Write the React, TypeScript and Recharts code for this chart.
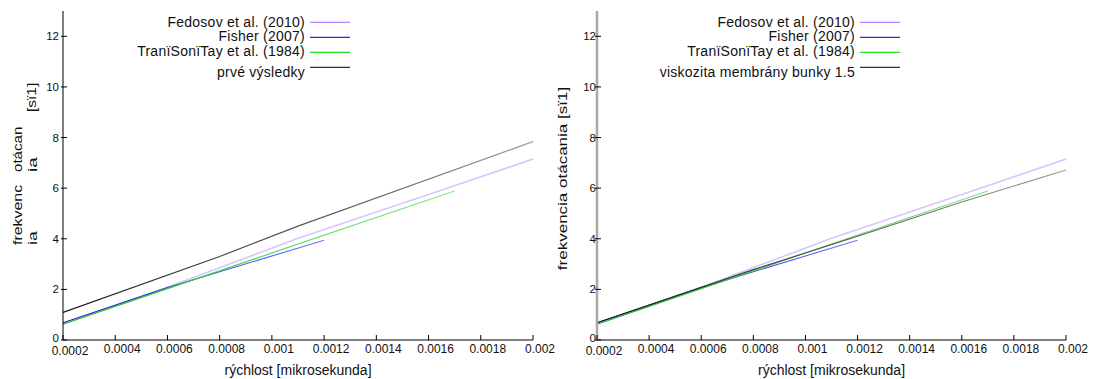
import React from 'react';
import { LineChart, Line, XAxis, YAxis, Legend } from 'recharts';

// ---------- data ----------
const xTicks = [0.0002, 0.0004, 0.0006, 0.0008, 0.001, 0.0012, 0.0014, 0.0016, 0.0018, 0.002];
const xTickLabels = ['0.0002', '0.0004', '0.0006', '0.0008', '0.001', '0.0012', '0.0014', '0.0016', '0.0018', '0.002'];
const yTicks = [0, 2, 4, 6, 8, 10, 12];
const yTickLabels = ['0', '2', '4', '6', '8', '10', '12'];

const seriesNames = ['Fedosov et al. (2010)', 'Fisher (2007)', 'TranïSonïTay et al. (1984)'];
const leftExtraName = 'prvé výsledky';
const rightExtraName = 'viskozita membrány bunky 1.5';

const fedosovX = [0.0002, 0.0006, 0.0011, 0.0016, 0.002];
const fedosovY = [0.65, 2.08, 4.02, 5.75, 7.15];
const fisherX = [0.0002, 0.0006, 0.0008, 0.0012];
const fisherY = [0.68, 2.07, 2.7, 3.94];
const tranX = [0.0002, 0.0006, 0.0011, 0.0017];
const tranY = [0.62, 2.03, 3.79, 5.89];
const prveX = [0.0002, 0.0008, 0.0011, 0.002];
const prveY = [1.09, 3.3, 4.5, 7.84];
const viskX = [0.0002, 0.0008, 0.0012, 0.0016, 0.002];
const viskY = [0.68, 2.78, 4.1, 5.45, 6.72];

const zip = (xs: number[], ys: number[]) => xs.map((x, i) => ({ x, y: ys[i] }));
const fedosovData = zip(fedosovX, fedosovY);
const fisherData = zip(fisherX, fisherY);
const tranData = zip(tranX, tranY);
const prveData = zip(prveX, prveY);
const viskData = zip(viskX, viskY);

// ---------- styles ----------
const FONT = '"Liberation Sans", Arial, Helvetica, sans-serif';
const legendColors = ['#b186ff', '#2a2ae6', '#22dd22', '#333333'];

const makeXTick = () => (props: any) => {
  const { x, y, index } = props;
  return (
    <g>
      <line x1={x} x2={x} y1={y} y2={y - 5} stroke="#000" />
      <text x={x + 7} y={y + 13 + (index === 0 ? 2 : 0)} textAnchor="middle" fontSize={12} fill="#111" fontFamily={FONT}>
        {xTickLabels[index]}
      </text>
    </g>
  );
};
const XTickTop = (props: any) => {
  const { x, y } = props;
  return <line x1={x} x2={x} y1={y} y2={y + 5} stroke="#000" />;
};
const makeYTick = (gap: number) => (props: any) => {
  const { x, y, index } = props;
  return (
    <g>
      <line x1={x - 2} x2={x + 4} y1={y} y2={y} stroke="#000" />
      <text x={x - gap} y={y + (index === 0 ? 1.5 : 4)} textAnchor="end" fontSize={11.5} fill="#111" fontFamily={FONT}>
        {yTickLabels[index]}
      </text>
    </g>
  );
};
const YTickRight = (props: any) => {
  const { x, y } = props;
  return <line x1={x} x2={x - 5} y1={y} y2={y} stroke="#000" />;
};

const LegendBox = (props: any) => {
  const payload = props.payload || [];
  const lineY = [22.3, 37.3, 52.3, 67.3];
  const textY = [26.6, 40.8, 55.8, 77.3];
  return (
    <svg width={360} height={90} style={{ display: 'block' }}>
      {payload.map((p: any, i: number) => (
        <g key={i}>
          <text x={305} y={textY[i]} textAnchor="end" fontSize={14} letterSpacing={0.25} fill="#111" fontFamily={FONT}>
            {p.value}
          </text>
          <line x1={310} x2={350} y1={lineY[i]} y2={lineY[i]} stroke={legendColors[i]} strokeWidth={1.3} />
        </g>
      ))}
    </svg>
  );
};

const XTitle = (props: any) => {
  const vb = props.viewBox || {};
  return (
    <text x={vb.x + vb.width / 2} y={375} textAnchor="middle" fontSize={14} fill="#111" fontFamily={FONT}>
      rýchlost [mikrosekunda]
    </text>
  );
};

const RotText = ({ x, y, s, children, anchor = 'start' }: any) => (
  <text
    transform={`translate(${x},${y}) rotate(-90) scale(${s},1)`}
    textAnchor={anchor}
    fontSize={13.5}
    fill="#111"
    fontFamily={FONT}
  >
    {children}
  </text>
);

const YTitleLeft = () => (
  <g>
    <RotText x={21.7} y={245} s={1.18}>frekvenc</RotText>
    <RotText x={36.7} y={245} s={1.3}>ia</RotText>
    <RotText x={21.7} y={172} s={1.12}>otácan</RotText>
    <RotText x={36.7} y={172} s={1.4}>ia</RotText>
    <RotText x={36} y={112} s={1.15}>[sï1]</RotText>
  </g>
);
const YTitleRight = () => (
  <g>
    <RotText x={17} y={178.5} s={1.26} anchor="middle">frekvencia otácania [sï1]</RotText>
  </g>
);

function Panel(props: {
  width: number;
  yAxisWidth: number;
  marginRight: number;
  leftBorder: string;
  rightBorder: string;
  extraName: string;
  extraData: { x: number; y: number }[];
  tickGap: number;
  YTitle: any;
}) {
  const { width, yAxisWidth, marginRight, leftBorder, rightBorder, extraName, extraData, tickGap, YTitle } = props;
  return (
    <LineChart width={width} height={379} margin={{ top: 11, right: marginRight, bottom: 0, left: 0 }}>
      <XAxis
        xAxisId="b"
        type="number"
        dataKey="x"
        domain={[0.0002, 0.002]}
        ticks={xTicks}
        interval={0}
        height={39}
        tickSize={0}
        tickMargin={0}
        axisLine={{ stroke: '#000' }}
        tick={makeXTick()}
        label={<XTitle />}
        allowDataOverflow
      />
      <XAxis
        xAxisId="t"
        orientation="top"
        type="number"
        dataKey="x"
        domain={[0.0002, 0.002]}
        ticks={xTicks}
        interval={0}
        height={0}
        tickSize={0}
        tickMargin={0}
        axisLine={{ stroke: '#000' }}
        tick={XTickTop}
        allowDataOverflow
      />
      <YAxis
        yAxisId="l"
        type="number"
        domain={[0, 13]}
        ticks={yTicks}
        interval={0}
        width={yAxisWidth}
        tickSize={0}
        tickMargin={0}
        axisLine={{ stroke: leftBorder, strokeWidth: leftBorder === '#000' ? 1 : 2.5 }}
        tick={makeYTick(tickGap)}
        label={<YTitle />}
        allowDataOverflow
      />
      <YAxis
        yAxisId="r"
        orientation="right"
        type="number"
        domain={[0, 13]}
        ticks={yTicks}
        interval={0}
        width={0}
        tickSize={0}
        tickMargin={0}
        axisLine={{ stroke: rightBorder, strokeWidth: rightBorder === '#000' ? 1 : 2.5 }}
        tick={YTickRight}
        allowDataOverflow
      />
      <Line xAxisId="b" yAxisId="l" data={fedosovData} dataKey="y" name={seriesNames[0]} type="linear" stroke="#d6c6ff" strokeWidth={1.6} dot={false} isAnimationActive={false} />
      <Line xAxisId="b" yAxisId="l" data={fisherData} dataKey="y" name={seriesNames[1]} type="linear" stroke="url(#gBlue)" strokeWidth={1.1} dot={false} isAnimationActive={false} />
      <Line xAxisId="b" yAxisId="l" data={tranData} dataKey="y" name={seriesNames[2]} type="linear" stroke="url(#gGreen)" strokeWidth={1.1} dot={false} isAnimationActive={false} />
      <Line xAxisId="b" yAxisId="l" data={extraData} dataKey="y" name={extraName} type="linear" stroke="url(#gGray)" strokeWidth={1.1} dot={false} isAnimationActive={false} />
      <Legend
        layout="horizontal"
        verticalAlign="middle"
        align="center"
        content={<LegendBox />}
        wrapperStyle={{ position: 'absolute', left: 0, top: 0, width: 360, height: 90 }}
      />
    </LineChart>
  );
}

export default function App() {
  return (
    <div style={{ position: 'absolute', left: 0, top: 0, width: 1097, height: 379, background: '#fff', fontFamily: FONT }}>
      <svg width={0} height={0} style={{ position: 'absolute' }}>
        <defs>
          <linearGradient id="gGray" x1="0" y1="0" x2="1" y2="0">
            <stop offset="0" stopColor="#111" />
            <stop offset="1" stopColor="#9a9a9a" />
          </linearGradient>
          <linearGradient id="gBlue" x1="0" y1="0" x2="1" y2="0">
            <stop offset="0" stopColor="#1515cc" />
            <stop offset="1" stopColor="#6a78ff" />
          </linearGradient>
          <linearGradient id="gGreen" x1="0" y1="0" x2="1" y2="0">
            <stop offset="0" stopColor="#15c015" />
            <stop offset="1" stopColor="#80e880" />
          </linearGradient>
        </defs>
      </svg>
      <div style={{ position: 'absolute', left: 550, top: 0 }}>
        <Panel
          width={547}
          yAxisWidth={47}
          marginRight={31}
          leftBorder="#a8a8a8"
          rightBorder="#000"
          extraName={rightExtraName}
          extraData={viskData}
          tickGap={1}
          YTitle={YTitleRight}
        />
      </div>
      <div style={{ position: 'absolute', left: 0, top: 0 }}>
        <Panel
          width={562}
          yAxisWidth={63}
          marginRight={29}
          leftBorder="#000"
          rightBorder="#a8a8a8"
          extraName={leftExtraName}
          extraData={prveData}
          tickGap={4}
          YTitle={YTitleLeft}
        />
      </div>
    </div>
  );
}
